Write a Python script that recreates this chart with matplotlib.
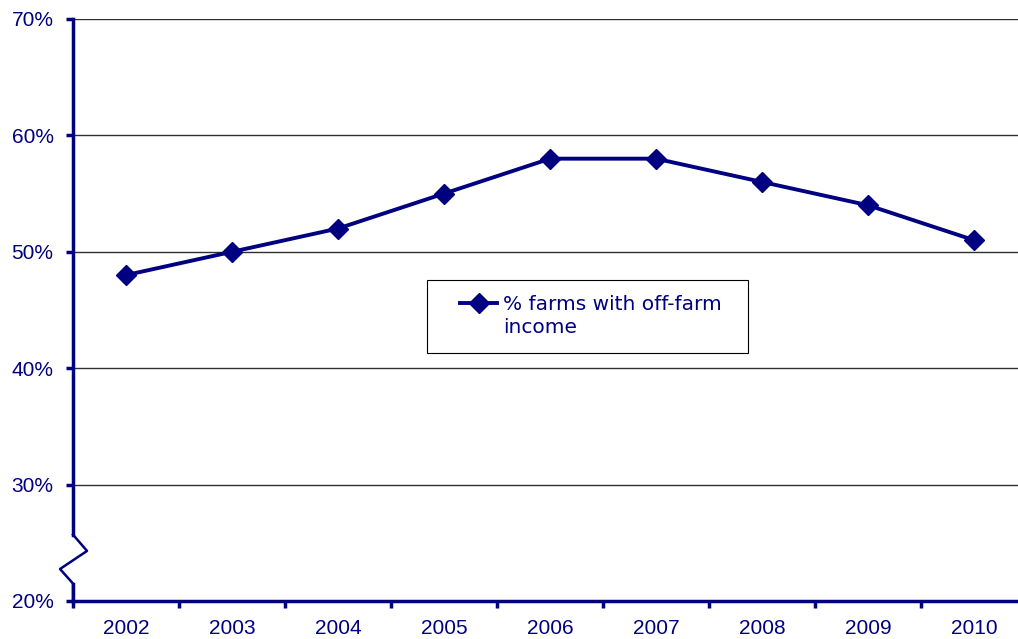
import matplotlib.pyplot as plt
from matplotlib.patches import Rectangle
from matplotlib.legend_handler import HandlerLine2D
from matplotlib.ticker import FuncFormatter

years = ['2002', '2003', '2004', '2005', '2006', '2007', '2008', '2009', '2010']
off_farm = [48, 50, 52, 55, 58, 58, 56, 54, 51]
label = '% farms with off-farm\nincome'

navy = '#000080'


# legend marker sits on the first line of the label, not in the middle
class TopLineHandler(HandlerLine2D):
    def create_artists(self, legend, orig_handle, xdescent, ydescent,
                       width, height, fontsize, trans):
        arts = super().create_artists(legend, orig_handle, xdescent, ydescent,
                                      width, height, fontsize, trans)
        for a in arts:
            a.set_ydata([y + 0.65 * fontsize for y in a.get_ydata()])
        return arts


fig = plt.figure(figsize=(10.18, 6.39), dpi=100)
ax = fig.add_axes([73/1018, 38/639, 954/1018, 582/639])

x = list(range(len(years)))
line, = ax.plot(x, off_farm, color=navy, lw=2.8, marker='D', ms=10, label=label, zorder=3)

ax.set_xlim(-0.5, len(years) - 0.5)
ax.set_ylim(20, 70)
ax.set_yticks(range(20, 71, 10))
ax.yaxis.set_major_formatter(FuncFormatter(lambda v, p: f'{v:.0f}%'))
ax.set_xticks(x)
ax.set_xticklabels(years)
ax.set_xticks([i + 0.5 for i in range(-1, len(years))], minor=True)
ax.tick_params(axis='x', which='major', length=0, pad=13)
ax.tick_params(axis='x', which='minor', length=5, width=2.5, color=navy, direction='out')
ax.tick_params(axis='y', length=5, width=2.5, color=navy, direction='out', pad=9)
for t in ax.get_xticklabels() + ax.get_yticklabels():
    t.set_fontfamily('Liberation Sans')
    t.set_fontsize(15)
    t.set_color(navy)

ax.grid(axis='y', color='#303030', lw=1)
ax.set_axisbelow(True)
for s in ['top', 'right', 'left']:
    ax.spines[s].set_visible(False)
ax.spines['bottom'].set_color(navy)
ax.spines['bottom'].set_linewidth(2.5)

# left spine with axis break
tr = ax.get_yaxis_transform()
ax.plot([0, 0], [70, 25.7], color=navy, lw=2.5, transform=tr, clip_on=False, zorder=4)
ax.plot([0, 0.0147, -0.0136, 0, 0], [25.7, 24.3, 22.75, 21.5, 20],
        color=navy, lw=1.8, transform=tr, clip_on=False, zorder=4)
ax.plot([0, 0], [21.5, 20], color=navy, lw=2.5, transform=tr, clip_on=False, zorder=4)

# legend box
ax.add_patch(Rectangle((354/954, 248/582), 321/954, 73/582, transform=ax.transAxes,
                       facecolor='white', edgecolor='black', lw=0.8, zorder=5))
leg = ax.legend(loc='center left', bbox_to_anchor=(387/954, 285/582),
                frameon=False, handlelength=1.85, handletextpad=0.3,
                borderpad=0, borderaxespad=0,
                handler_map={line: TopLineHandler()},
                prop={'family': 'DejaVu Sans', 'size': 14.5})
leg.set_zorder(6)
for t in leg.get_texts():
    t.set_color(navy)
    t.set_linespacing(1.3)

fig.savefig('out.png', dpi=100)
